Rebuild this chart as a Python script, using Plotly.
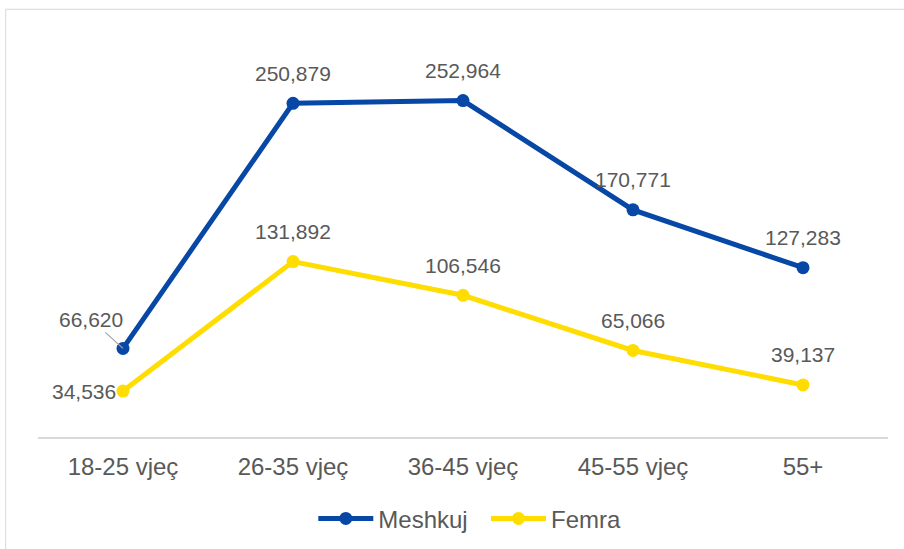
import plotly.graph_objects as go

categories = ["18-25 vjeç", "26-35 vjeç", "36-45 vjeç", "45-55 vjeç", "55+"]
meshkuj = [66620, 250879, 252964, 170771, 127283]
femra = [34536, 131892, 106546, 65066, 39137]
series_names = ["Meshkuj", "Femra"]

BLUE = "#0747A6"
YELLOW = "#FFDD00"
TXT = "#595959"
FONT = "Liberation Sans, Arial, sans-serif"
NBSP = "\u00a0"

fig = go.Figure()
fig.add_trace(go.Scatter(x=categories, y=meshkuj, name=series_names[0] + NBSP * 2, mode="lines+markers",
                         line=dict(color=BLUE, width=5), marker=dict(size=13, color=BLUE)))
fig.add_trace(go.Scatter(x=categories, y=femra, name=series_names[1], mode="lines+markers",
                         line=dict(color=YELLOW, width=5), marker=dict(size=13, color=YELLOW)))

anns = []
for series, name in ((meshkuj, "m"), (femra, "f")):
    for i, (c, v) in enumerate(zip(categories, series)):
        txt = f"{v:,}"
        if i == 0 and name == "m":
            anns.append(dict(x=c, y=v, text=txt, showarrow=True, arrowhead=0, arrowwidth=1.2,
                             arrowcolor="#A6A6A6", ax=-32, ay=-29, standoff=0,
                             font=dict(size=21, color=TXT, family=FONT)))
        elif i == 0 and name == "f":
            anns.append(dict(x=c, y=v, text=txt, showarrow=False, xanchor="right", xshift=-5,
                             yanchor="middle", font=dict(size=21, color=TXT, family=FONT)))
        else:
            anns.append(dict(x=c, y=v, text=txt, showarrow=False, yanchor="middle", yshift=30,
                             font=dict(size=21, color=TXT, family=FONT)))

fig.update_layout(
    width=904, height=549,
    margin=dict(l=38, r=16, t=38, b=112, autoexpand=False),
    paper_bgcolor="white", plot_bgcolor="white",
    font=dict(family=FONT, color=TXT, size=24),
    xaxis=dict(showgrid=False, showline=True, linecolor="#D9D9D9", linewidth=2,
               range=[-0.5, 4.5], ticks="", tickfont=dict(size=24, color=TXT),
               fixedrange=True, ticklabelstandoff=7),
    yaxis=dict(range=[0, 300000], visible=False, fixedrange=True),
    legend=dict(orientation="h", x=0.508, xanchor="center", y=-0.205, yanchor="middle",
                font=dict(size=24, color=TXT), itemwidth=55, tracegroupgap=0),
    annotations=anns,
    shapes=[dict(type="rect", xref="paper", yref="paper", x0=-0.038, x1=1.2, y0=-0.5, y1=1.072,
                 line=dict(color="#D9D9D9", width=1), fillcolor="rgba(0,0,0,0)", layer="below")],
    showlegend=True,
)
fig.write_html("out.html", config={"displayModeBar": False},
               post_script="document.body.style.margin='0';")
